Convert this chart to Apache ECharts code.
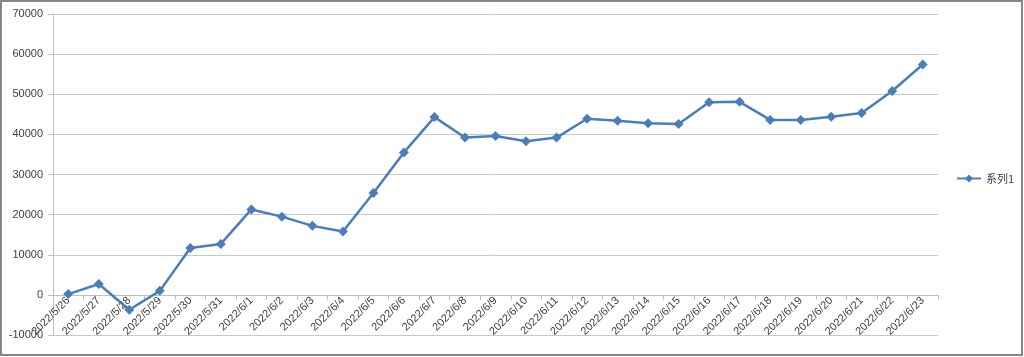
<!DOCTYPE html>
<html><head><meta charset="utf-8">
<script src="https://cdn.jsdelivr.net/npm/echarts@6/dist/echarts.min.js"></script>
<style>html,body{margin:0;padding:0;background:#fff}#c{width:1024px;height:357px}</style>
</head><body><div id="c"></div>
<script>
const categories = ['2022/5/26','2022/5/27','2022/5/28','2022/5/29','2022/5/30','2022/5/31','2022/6/1','2022/6/2','2022/6/3','2022/6/4','2022/6/5','2022/6/6','2022/6/7','2022/6/8','2022/6/9','2022/6/10','2022/6/11','2022/6/12','2022/6/13','2022/6/14','2022/6/15','2022/6/16','2022/6/17','2022/6/18','2022/6/19','2022/6/20','2022/6/21','2022/6/22','2022/6/23'];
const seriesName = '系列1';
const values = [200, 2700, -3700, 1000, 11700, 12700, 21300, 19500, 17200, 15800, 25400, 35500, 44300, 39200, 39600, 38300, 39200, 43900, 43400, 42800, 42600, 48000, 48100, 43600, 43600, 44400, 45300, 50800, 57400];
const yMin = -10000, yMax = 70000, yStep = 10000;

const chart = echarts.init(document.getElementById('c'), null, {renderer: 'canvas'});
const font = 'Liberation Sans, Noto Sans, sans-serif';
const gridTop = 14, gridBottom = 22, H = 357;
const plotH = H - gridTop - gridBottom;
const zeroOffset = -plotH * (0 - yMin) / (yMax - yMin);
chart.setOption({
  animation: false,
  backgroundColor: '#fff',
  textStyle: {fontFamily: font},
  graphic: [{
    type: 'rect', shape: {x: 1, y: 1, width: 1021, height: 354},
    style: {fill: 'none', stroke: '#868686', lineWidth: 2}, silent: true
  }],
  grid: {left: 53, right: 86, top: gridTop, bottom: gridBottom, containLabel: false, outerBoundsMode: 'none'},
  legend: {
    data: [seriesName], left: 951, top: 168, orient: 'vertical',
    itemWidth: 24, itemHeight: 10, itemGap: 4,
    textStyle: {fontSize: 11, color: '#404040', fontFamily: 'Noto Sans CJK SC, sans-serif'}
  },
  xAxis: {
    type: 'category', data: categories, boundaryGap: true, offset: zeroOffset,
    axisLine: {onZero: false, lineStyle: {color: '#bfbfbf', width: 1}},
    axisTick: {show: true, interval: 0, length: 5, lineStyle: {color: '#bfbfbf'}},
    axisLabel: {interval: 0, rotate: 45, fontSize: 11, color: '#404040', margin: 4, fontFamily: font},
    splitLine: {show: false}
  },
  yAxis: {
    type: 'value', min: yMin, max: yMax, interval: yStep,
    axisLine: {show: true, lineStyle: {color: '#bfbfbf'}},
    axisTick: {show: true, length: 5, lineStyle: {color: '#bfbfbf'}},
    axisLabel: {fontSize: 11, color: '#404040', margin: 10, fontFamily: font, formatter: v => String(v)},
    splitLine: {show: true, lineStyle: {color: '#c8c8c8', width: 1}}
  },
  series: [{
    name: seriesName, type: 'line', data: values,
    symbol: 'diamond', symbolSize: 10,
    lineStyle: {color: '#4a7ebb', width: 2.5},
    itemStyle: {color: '#4a7ebb'}
  }]
});
</script></body></html>
